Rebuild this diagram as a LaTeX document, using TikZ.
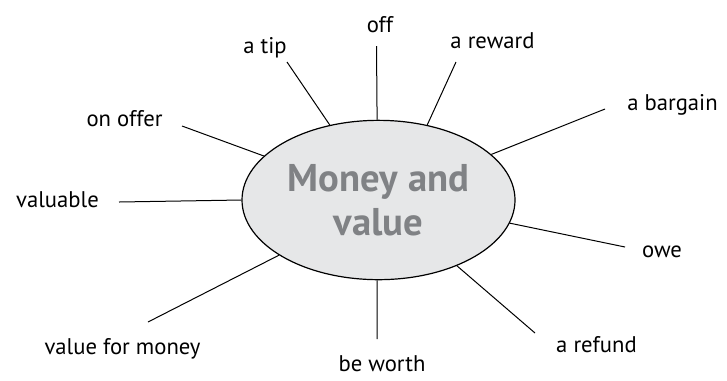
\documentclass[tikz,border=0pt]{standalone}
\usepackage{fontspec}
\setmainfont{PT Sans}
\usetikzlibrary{shapes.geometric}
\definecolor{ellfill}{HTML}{E6E7E8}
\definecolor{titlegray}{HTML}{808285}
\begin{document}
\begin{tikzpicture}[x=0.75pt,y=-0.75pt,
  lbl/.style={font=\fontsize{17}{20}\selectfont, inner sep=0pt, anchor=base},
  spoke/.style={draw=black, line width=0.75pt}]
\useasboundingbox (0,0) rectangle (727,380);
\node[ellipse, draw=black, line width=0.9pt, fill=ellfill, minimum width=204.75pt, minimum height=119.5pt, inner sep=0pt,
  align=center, text=titlegray, font=\fontsize{29}{33}\selectfont\bfseries] (e) at (378.5,200) {Money and\\value};
% labels (base anchors)
\node[lbl] (off) at (380,32) {off};
\node[lbl] (tip) at (265,53) {a tip};
\node[lbl] (reward) at (492.5,48) {a reward};
\node[lbl] (bargain) at (672.5,110) {a bargain};
\node[lbl] (offer) at (124.5,126) {on offer};
\node[lbl] (valuable) at (57.5,207) {valuable};
\node[lbl] (owe) at (662,257) {owe};
\node[lbl] (refund) at (596.5,352) {a refund};
\node[lbl] (worth) at (382,371) {be worth};
\node[lbl] (vfm) at (122.5,354) {value for money};
% outer ends
\coordinate (coff) at (376.5,46);
\coordinate (ctip) at (287,62);
\coordinate (creward) at (456,62);
\coordinate (cbargain) at (605,109);
\coordinate (coffer) at (182,126);
\coordinate (cvaluable) at (119,202);
\coordinate (cowe) at (625,247);
\coordinate (crefund) at (535,333);
\coordinate (cworth) at (377,339);
\coordinate (cvfm) at (148,322);
% spokes
\draw[spoke] (e.91.3) -- (coff);
\draw[spoke] (e.123.2) -- (ctip);
\draw[spoke] (e.57.1) -- (creward);
\draw[spoke] (e.22.1) -- (cbargain);
\draw[spoke] (e.159.1) -- (coffer);
\draw[spoke] (e.180.8) -- (cvaluable);
\draw[spoke] (e.-10.9) -- (cowe);
\draw[spoke] (e.-40.1) -- (crefund);
\draw[spoke] (e.-91) -- (cworth);
\draw[spoke] (e.-151.5) -- (cvfm);
\end{tikzpicture}
\end{document}
